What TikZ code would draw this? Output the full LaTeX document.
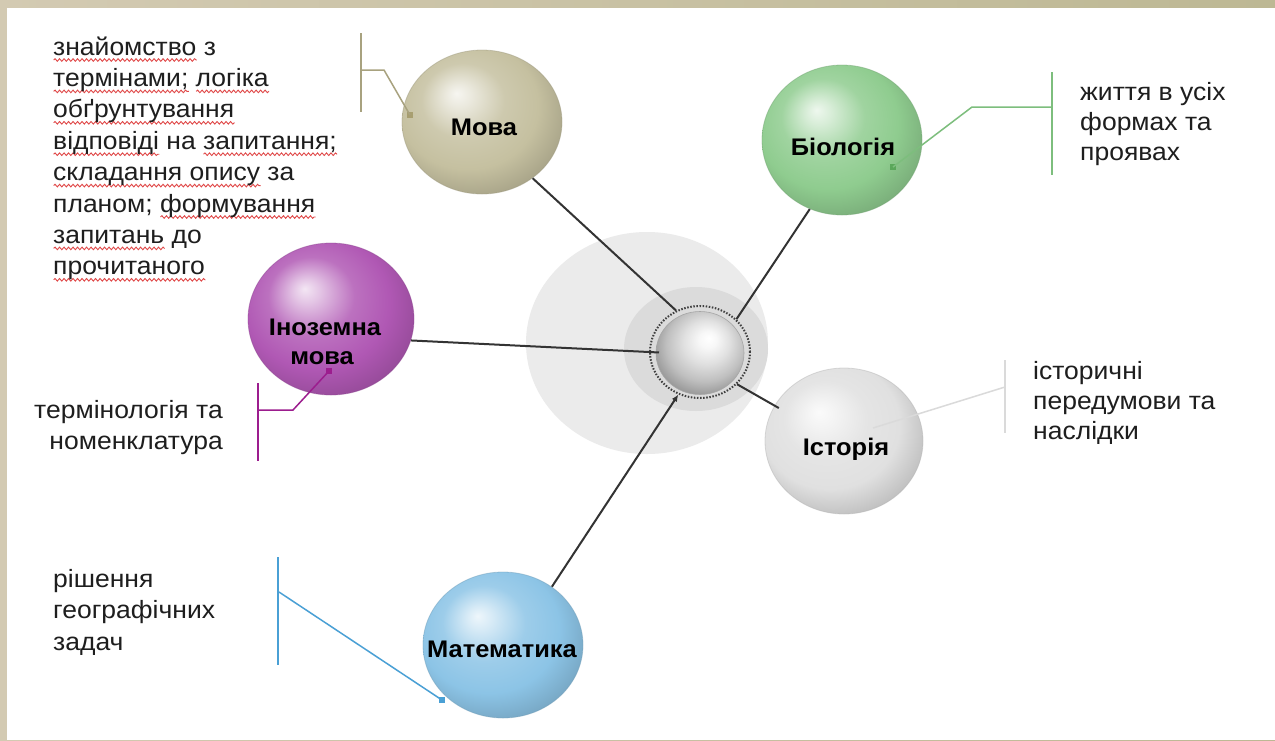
\documentclass[tikz,border=0pt]{standalone}
\usepackage{fontspec}
\setmainfont{Liberation Sans}[FakeStretch=1.06]
\usetikzlibrary{shapes.geometric,arrows.meta,decorations.pathmorphing}
\definecolor{txtcol}{HTML}{1E1E1E}
\definecolor{spellred}{HTML}{E04848}
\definecolor{conncol}{HTML}{333333}
\definecolor{khaki}{HTML}{C5C0A0}
\definecolor{khakiline}{HTML}{A8A27F}
\definecolor{khakidot}{HTML}{9A8F5A}
\definecolor{greenb}{HTML}{8FCC8F}
\definecolor{greenline}{HTML}{7DBE7D}
\definecolor{greendot}{HTML}{4FA04F}
\definecolor{greyb}{HTML}{E0E0E0}
\definecolor{greyline}{HTML}{DADADA}
\definecolor{purpleb}{HTML}{B058B4}
\definecolor{purpleline}{HTML}{9C1D8E}
\definecolor{blueb}{HTML}{8CC4E6}
\definecolor{blueline}{HTML}{4AA0D5}
\definecolor{parchA}{HTML}{D3CAB2}
\definecolor{parchB}{HTML}{BDB894}
\colorlet{sphcol}{gray}
\pgfdeclareradialshading[sphcol]{sph}{\pgfqpoint{-8bp}{10bp}}{color(0bp)=(sphcol!15!white); color(4bp)=(sphcol!35!white); color(13bp)=(sphcol!85!white); color(22bp)=(sphcol); color(30bp)=(sphcol!86!black); color(36bp)=(sphcol!75!black); color(50bp)=(sphcol!75!black)}
\pgfdeclareradialshading{silverball}{\pgfqpoint{5bp}{9bp}}{color(0bp)=(white); color(5bp)=(white!97!black); color(13bp)=(black!12); color(22bp)=(black!25); color(30bp)=(black!42); color(50bp)=(black!42)}
\newsavebox\rwbox
\newcommand\rw[1]{\sbox\rwbox{#1}\rlap{\raisebox{-5pt}[0pt][0pt]{\tikz[baseline=0pt]\draw[spellred, line width=0.9pt, decorate, decoration={snake, amplitude=1.3pt, segment length=4.5pt}] (0pt,0pt) -- (\wd\rwbox,0pt);}}\usebox\rwbox}
\tikzset{
  sph/.style={ellipse, inner sep=0pt, /utils/exec={\colorlet{sphcol}{#1}}, shading=sph, draw=#1!80!black, draw opacity=0.45, line width=0.8pt},
  txt/.style={inner sep=0pt, text=txtcol, font=\fontsize{25}{30.5}\selectfont, anchor=base west},
  lbl/.style={inner sep=0pt, text=black, font=\bfseries\fontsize{24}{28}\selectfont, anchor=base},
  conn/.style={draw=conncol, line width=2pt},
  brk/.style={line width=1.5pt},
  dotsq/.style={rectangle, fill=#1, minimum size=6pt, inner sep=0pt}
}
\begin{document}
\begin{tikzpicture}[x=1pt,y=-1pt]
\useasboundingbox (0,0) rectangle (1275,740);
% background
\fill[left color=parchA, right color=parchB] (0,0) rectangle (1275,740);
\fill[white] (7,8) rectangle (1275,740);

% hub discs
\fill[black!8] (647,343) ellipse [x radius=121pt, y radius=111pt];
\fill[black!14] (696,349) ellipse [x radius=72pt, y radius=62pt];
\node[ellipse, minimum width=100pt, minimum height=92pt, inner sep=0pt, draw=black!75, line width=2pt, dash pattern=on 1.5pt off 1.6pt] (hub) at (700,352) {};
\node[ellipse, minimum width=88pt, minimum height=83pt, inner sep=0pt, shading=silverball, draw=black!35, line width=0.6pt] (hubball) at (700,353) {};

% spheres
\node[sph=khaki, minimum width=160pt, minimum height=144pt] (mova) at (482,122) {};
\node[sph=greenb, minimum width=160pt, minimum height=150pt] (bio) at (842,140) {};
\node[sph=greyb, minimum width=158pt, minimum height=146pt] (hist) at (844,441) {};
\node[sph=purpleb, minimum width=166pt, minimum height=152pt] (ino) at (331,319) {};
\node[sph=blueb, minimum width=160pt, minimum height=146pt] (math) at (503,645) {};

% labels
\node[lbl] (lmova) at (484,135.5) {Мова};
\node[lbl] (lbio) at (843,155) {Біологія};
\node[lbl] (lhist) at (846,455) {Історія};
\node[lbl] (lino1) at (325,335) {Іноземна};
\node[lbl] (lino2) at (322,364) {мова};
\node[lbl] (lmath) at (502,657) {Математика};

% connectors to hub
\draw[conn] (mova.-48) -- (hub.120);
\draw[conn, shorten >=-10pt] (ino.-15) -- (hub.180);
\draw[conn] (bio.-115) -- (hub.42);
\draw[conn, shorten <=-5pt] (hist.153) -- (hub.-41);
\draw[conn, -{Latex[length=7pt,width=6pt]}] (math.50) -- (hub.-117);

% callout: Мова
\coordinate (mvt) at (361,33);
\coordinate (mvb) at (361,112);
\coordinate (mvh) at (361,70);
\coordinate (mvk) at (384,70);
\node[dotsq=khakidot, opacity=0.7] (mvdot) at (410,115) {};
\draw[brk, draw=khakiline] (mvt) -- (mvb);
\draw[brk, draw=khakiline] (mvh) -- (mvk) -- (mvdot.center);

% callout: Біологія
\coordinate (bvt) at (1052,72);
\coordinate (bvb) at (1052,175);
\coordinate (bvh) at (1052,107);
\coordinate (bvk) at (972,107);
\node[dotsq=greendot, opacity=0.8] (bdot) at (893,167) {};
\draw[brk, draw=greenline] (bvt) -- (bvb);
\draw[brk, draw=greenline] (bvh) -- (bvk) -- (bdot.center);

% callout: Історія
\coordinate (hvt) at (1005,360);
\coordinate (hvb) at (1005,433);
\coordinate (hvh) at (1005,387);
\coordinate (hend) at (873,428);
\draw[brk, draw=greyline] (hvt) -- (hvb);
\draw[brk, draw=greyline] (hvh) -- (hend);

% callout: Іноземна мова
\coordinate (ivt) at (258,383);
\coordinate (ivb) at (258,461);
\coordinate (ivh) at (258,410);
\coordinate (ivk) at (293,410);
\node[dotsq=purpleline] (idot) at (329,371) {};
\draw[brk, draw=purpleline] (ivt) -- (ivb);
\draw[brk, draw=purpleline] (ivh) -- (ivk) -- (idot.center);

% callout: Математика
\coordinate (avt) at (278,557);
\coordinate (avb) at (278,665);
\coordinate (avh) at (279,592);
\node[dotsq=blueline] (adot) at (442,700) {};
\draw[brk, draw=blueline] (avt) -- (avb);
\draw[brk, draw=blueline] (avh) -- (adot.center);

% texts
\node[txt, font=\fontsize{25}{31.4}\selectfont] (tmova) at (53,55) {\begin{tabular}[t]{@{}l@{}}
\rw{знайомство} з\\
\rw{термінами;} \rw{логіка}\\
\rw{обґрунтування}\\
\rw{відповіді} на \rw{запитання;}\\
\rw{складання опису} за\\
планом; \rw{формування}\\
\rw{запитань} до\\
\rw{прочитаного}
\end{tabular}};
\node[txt, font=\fontsize{25}{30}\selectfont] (tbio) at (1080,100) {\begin{tabular}[t]{@{}l@{}}життя в усіх\\формах та\\проявах\end{tabular}};
\node[txt, font=\fontsize{25}{30}\selectfont] (thist) at (1033,379) {\begin{tabular}[t]{@{}l@{}}історичні\\передумови та\\наслідки\end{tabular}};
\node[txt, anchor=base east, font=\fontsize{25}{31}\selectfont] (tino) at (223,418.5) {\begin{tabular}[t]{@{}r@{}}термінологія та\\номенклатура\end{tabular}};
\node[txt, font=\fontsize{25}{31.5}\selectfont] (tmath) at (53,587) {\begin{tabular}[t]{@{}l@{}}рішення\\географічних\\задач\end{tabular}};
\end{tikzpicture}
\end{document}
